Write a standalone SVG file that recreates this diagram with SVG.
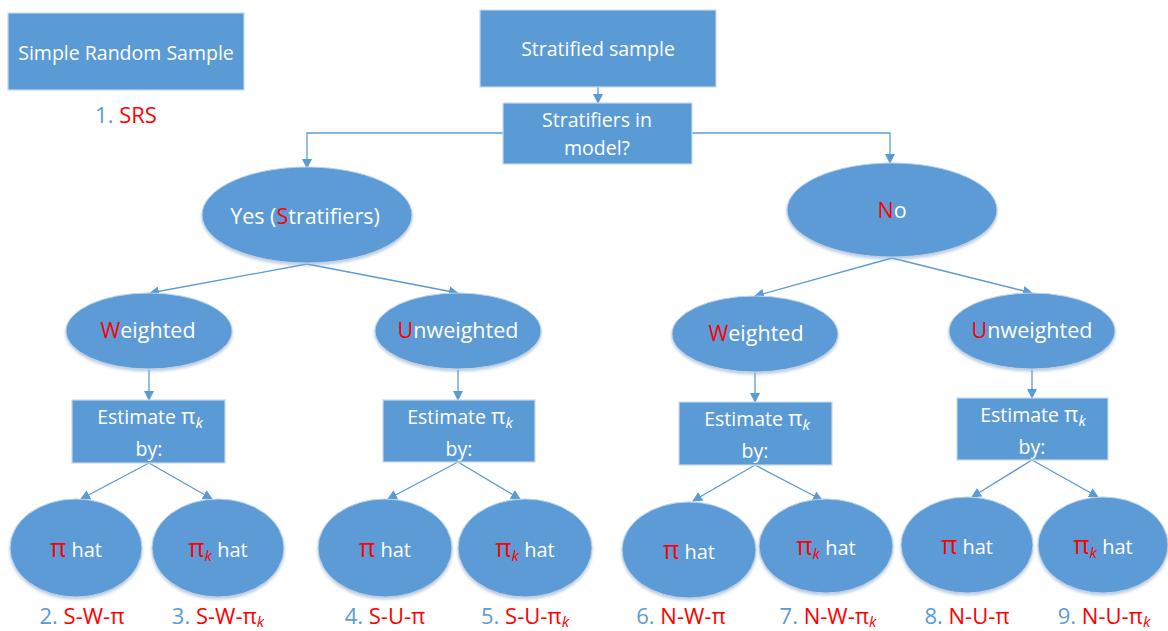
<svg xmlns="http://www.w3.org/2000/svg" width="1168" height="631" viewBox="0 0 1168 631">
<style>
.box{fill:#5B9BD5;stroke:#C9D9EC;stroke-width:1.2}
.ell{fill:#5B9BD5;stroke:#BFD2E8;stroke-width:1;filter:url(#sh)}
.t{font-family:"Open Sans","Liberation Sans",sans-serif;fill:#fff;font-size:19.5px;text-anchor:middle}
.big{font-size:21.5px}
.hat{font-size:20px}
.pi{font-size:25px}
.pe{font-size:22px}
.r{fill:#FF0000}
.b{fill:#5B9BD5}
.lab{font-family:"Open Sans","Liberation Sans",sans-serif;font-size:22px;text-anchor:middle}
.k{font-style:italic;font-size:15px}
.c{fill:none;stroke:#5B9BD5;stroke-width:1.3;marker-end:url(#ah)}
</style>
<defs>
<marker id="ah" markerWidth="10" markerHeight="10" refX="9" refY="5" orient="auto" markerUnits="userSpaceOnUse">
<path d="M0,0 L10,5 L0,10 z" fill="#5B9BD5"/>
</marker>
<filter id="sh" x="-10%" y="-10%" width="120%" height="130%">
<feDropShadow dx="0" dy="2" stdDeviation="1.5" flood-color="#8FA9C8" flood-opacity="0.6"/>
</filter>
</defs>
<rect width="1168" height="631" fill="#fff"/>

<g id="connectors">
<path class="c" d="M598,87 L598,103"/>
<path class="c" d="M503,133 L307,133 L307,168"/>
<path class="c" d="M692,133 L890,133 L890,163"/>
<path class="c" d="M307,264 L150,293"/>
<path class="c" d="M307,264 L458,293"/>
<path class="c" d="M892,258 L755,296"/>
<path class="c" d="M892,258 L1032,293"/>
<path class="c" d="M149,370 L149,400"/>
<path class="c" d="M458,370 L458,400"/>
<path class="c" d="M755,373 L755,402"/>
<path class="c" d="M1032,370 L1032,398"/>
<path class="c" d="M149,463 L81,499"/>
<path class="c" d="M149,463 L212,499"/>
<path class="c" d="M458,462 L388,499"/>
<path class="c" d="M458,462 L520,499"/>
<path class="c" d="M755,465 L693,501"/>
<path class="c" d="M755,465 L822,500"/>
<path class="c" d="M1032,460 L972,497"/>
<path class="c" d="M1032,460 L1098,497"/>
</g>

<g id="srs">
<rect class="box" x="8" y="13" width="236" height="77"/>
<text class="t" x="126" y="60">Simple Random Sample</text>
<text class="lab" x="126" y="123"><tspan class="b">1. </tspan><tspan class="r">SRS</tspan></text>
</g>

<g id="stratified">
<rect class="box" x="480" y="10" width="236" height="77"/>
<text class="t" x="598" y="56">Stratified sample</text>
</g>

<g id="stratifiers">
<rect class="box" x="503" y="103" width="189" height="61"/>
<text class="t" x="597" y="127">Stratifiers in</text>
<text class="t" x="597" y="155">model?</text>
</g>

<g id="yes">
<ellipse class="ell" cx="307" cy="215" rx="105" ry="48"/>
<text class="t big" x="305" y="224">Yes (<tspan class="r">S</tspan>tratifiers)</text>
</g>

<g id="no">
<ellipse class="ell" cx="892" cy="210" rx="105" ry="47"/>
<text class="t big" x="892" y="218"><tspan class="r">N</tspan>o</text>
</g>

<g id="sw">
<ellipse class="ell" cx="149" cy="331" rx="83" ry="38"/>
<text class="t big" x="148" y="338"><tspan class="r">W</tspan>eighted</text>
</g>
<g id="su">
<ellipse class="ell" cx="458" cy="331" rx="83" ry="38"/>
<text class="t big" x="458" y="338"><tspan class="r">U</tspan>nweighted</text>
</g>
<g id="nw">
<ellipse class="ell" cx="755" cy="334" rx="83" ry="38"/>
<text class="t big" x="756" y="341"><tspan class="r">W</tspan>eighted</text>
</g>
<g id="nu">
<ellipse class="ell" cx="1032" cy="331" rx="83" ry="38"/>
<text class="t big" x="1032" y="338"><tspan class="r">U</tspan>nweighted</text>
</g>

<g id="est1">
<rect class="box" x="72" y="400" width="153" height="63"/>
<text class="t" x="150" y="424">Estimate <tspan class="pe">π</tspan><tspan class="k" dy="4">k</tspan></text>
<text class="t" x="149" y="456">by:</text>
</g>
<g id="est2">
<rect class="box" x="383" y="400" width="152" height="62"/>
<text class="t" x="460" y="424">Estimate <tspan class="pe">π</tspan><tspan class="k" dy="4">k</tspan></text>
<text class="t" x="459" y="456">by:</text>
</g>
<g id="est3">
<rect class="box" x="679" y="402" width="153" height="63"/>
<text class="t" x="757" y="426">Estimate <tspan class="pe">π</tspan><tspan class="k" dy="4">k</tspan></text>
<text class="t" x="755" y="458">by:</text>
</g>
<g id="est4">
<rect class="box" x="957" y="398" width="151" height="62"/>
<text class="t" x="1033" y="422">Estimate <tspan class="pe">π</tspan><tspan class="k" dy="4">k</tspan></text>
<text class="t" x="1032" y="454">by:</text>
</g>

<g id="h1">
<ellipse class="ell" cx="76" cy="548" rx="66" ry="49"/>
<text class="t hat" x="76" y="557"><tspan class="r pi">π</tspan> hat</text>
<text class="lab" x="82" y="624"><tspan class="b">2. </tspan><tspan class="r">S-W-π</tspan></text>
</g>
<g id="h2">
<ellipse class="ell" cx="218" cy="548" rx="66" ry="49"/>
<text class="t hat" x="218" y="557"><tspan class="r pi">π</tspan><tspan class="r k" dy="4">k</tspan><tspan dy="-4"> hat</tspan></text>
<text class="lab" x="218" y="624"><tspan class="b">3. </tspan><tspan class="r">S-W-π</tspan><tspan class="r k" dy="3">k</tspan></text>
</g>
<g id="h3">
<ellipse class="ell" cx="385" cy="548" rx="67" ry="49"/>
<text class="t hat" x="385" y="557"><tspan class="r pi">π</tspan> hat</text>
<text class="lab" x="385" y="624"><tspan class="b">4. </tspan><tspan class="r">S-U-π</tspan></text>
</g>
<g id="h4">
<ellipse class="ell" cx="525" cy="548" rx="67" ry="49"/>
<text class="t hat" x="525" y="557"><tspan class="r pi">π</tspan><tspan class="r k" dy="4">k</tspan><tspan dy="-4"> hat</tspan></text>
<text class="lab" x="525" y="624"><tspan class="b">5. </tspan><tspan class="r">S-U-π</tspan><tspan class="r k" dy="3">k</tspan></text>
</g>
<g id="h5">
<ellipse class="ell" cx="689" cy="550" rx="67" ry="48"/>
<text class="t hat" x="689" y="559"><tspan class="r pi">π</tspan> hat</text>
<text class="lab" x="681" y="624"><tspan class="b">6. </tspan><tspan class="r">N-W-π</tspan></text>
</g>
<g id="h6">
<ellipse class="ell" cx="826" cy="546" rx="67" ry="47"/>
<text class="t hat" x="826" y="555"><tspan class="r pi">π</tspan><tspan class="r k" dy="4">k</tspan><tspan dy="-4"> hat</tspan></text>
<text class="lab" x="828" y="624"><tspan class="b">7. </tspan><tspan class="r">N-W-π</tspan><tspan class="r k" dy="3">k</tspan></text>
</g>
<g id="h7">
<ellipse class="ell" cx="967" cy="545" rx="66" ry="48"/>
<text class="t hat" x="967" y="554"><tspan class="r pi">π</tspan> hat</text>
<text class="lab" x="967" y="624"><tspan class="b">8. </tspan><tspan class="r">N-U-π</tspan></text>
</g>
<g id="h8">
<ellipse class="ell" cx="1103" cy="545" rx="65" ry="48"/>
<text class="t hat" x="1103" y="554"><tspan class="r pi">π</tspan><tspan class="r k" dy="4">k</tspan><tspan dy="-4"> hat</tspan></text>
<text class="lab" x="1104" y="624"><tspan class="b">9. </tspan><tspan class="r">N-U-π</tspan><tspan class="r k" dy="3">k</tspan></text>
</g>
</svg>
